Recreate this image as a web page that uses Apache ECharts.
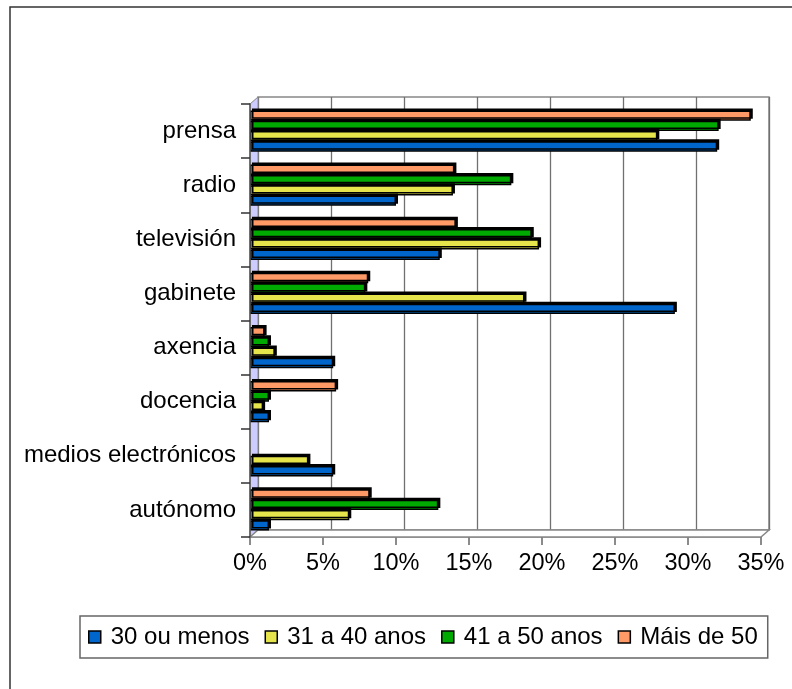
<!DOCTYPE html>
<html>
<head>
<meta charset="utf-8">
<script src="https://cdn.jsdelivr.net/npm/echarts@6/dist/echarts.min.js"></script>
<style>
  html, body { margin: 0; padding: 0; background: #fff; }
  #chart { width: 792px; height: 689px; }
</style>
</head>
<body>
<div id="chart"></div>
<script>
// categories listed bottom -> top (echarts draws first category at the bottom)
var categories = ['autónomo', 'medios electrónicos', 'docencia', 'axencia', 'gabinete', 'televisión', 'radio', 'prensa'];
var seriesNames = ['30 ou menos', '31 a 40 anos', '41 a 50 anos', 'Máis de 50'];
var v30 = [1.3, 5.7, 1.3, 5.7, 29.1, 13.0, 10.0, 32.0];
var v31 = [6.8, 4.0, 0.9, 1.7, 18.8, 19.8, 13.9, 27.9];
var v41 = [12.9, 0, 1.3, 1.3, 7.9, 19.3, 17.9, 32.1];
var v50 = [8.2, 0, 5.9, 1.0, 8.1, 14.1, 14.0, 34.3];
var xTicks = [0, 5, 10, 15, 20, 25, 30, 35];

var colors = ['#0066CC', '#E6E64C', '#00AA00', '#FF9966'];
var values = [v30, v31, v41, v50];
var font = '"Liberation Sans", Arial, sans-serif';

var chart = echarts.init(document.getElementById('chart'));

// echarts stacks the first series at the top of a band, so add them in reverse
var series = [];
for (var i = seriesNames.length - 1; i >= 0; i--) {
  series.push({
    name: seriesNames[i],
    type: 'bar',
    xAxisIndex: 0,
    yAxisIndex: 0,
    barWidth: 10.3,
    barGap: '0%',
    itemStyle: {
      color: colors[i],
      borderColor: '#000',
      borderWidth: 1.5,
      shadowColor: '#000',
      shadowOffsetX: 2,
      shadowOffsetY: -2
    },
    data: values[i].map(function (v) { return v === 0 ? null : v; })
  });
}

var option = {
  backgroundColor: '#fff',
  animation: false,
  textStyle: { fontFamily: font },
  grid: [
    // front (bars, axes)
    { left: 250, right: 31, top: 104, bottom: 152 },
    // back wall (gridlines), shifted for the 3D look
    { left: 258, right: 23, top: 97, bottom: 159, show: true, borderColor: '#888', borderWidth: 1.5 }
  ],
  graphic: [
    { type: 'rect', shape: { x: 10, y: 7, width: 800, height: 720 },
      style: { fill: 'none', stroke: '#333', lineWidth: 1.5 }, z: 100 },
    { type: 'polygon', shape: { points: [[250, 104], [258, 97], [258, 530], [250, 537]] },
      style: { fill: '#CCCCFF', stroke: '#888', lineWidth: 1 }, z: 1 },
    { type: 'polygon', shape: { points: [[250, 537], [258, 530], [769, 530], [761, 537]] },
      style: { fill: '#fff', stroke: '#888', lineWidth: 1.5 }, z: 1 }
  ],
  legend: {
    data: seriesNames,
    left: 80,
    top: 616,
    padding: [9, 10, 9, 8],
    itemGap: 15,
    itemWidth: 12,
    itemHeight: 12,
    icon: 'rect',
    borderColor: '#666',
    borderWidth: 1.5,
    itemStyle: { borderColor: '#000', borderWidth: 1.5, shadowOffsetX: 0, shadowOffsetY: 0, shadowColor: 'transparent' },
    textStyle: { fontSize: 24, color: '#000', fontFamily: font, padding: [0, 0, 0, 5] }
  },
  xAxis: [
    {
      gridIndex: 0,
      type: 'value',
      min: 0,
      max: 35,
      interval: 5,
      axisLine: { show: true, lineStyle: { color: '#888', width: 1.5 } },
      axisTick: { show: true, length: 8, lineStyle: { color: '#666', width: 1.5 } },
      splitLine: { show: false },
      axisLabel: { color: '#000', fontSize: 23.5, margin: 15, fontFamily: font,
        formatter: function (v) { return xTicks.indexOf(v) >= 0 ? v + '%' : ''; } }
    },
    {
      gridIndex: 1,
      type: 'value',
      min: 0,
      max: 35,
      interval: 5,
      axisLine: { show: false },
      axisTick: { show: false },
      axisLabel: { show: false },
      splitLine: { show: true, lineStyle: { color: '#707070', width: 1.3 } }
    }
  ],
  yAxis: [
    {
      gridIndex: 0,
      type: 'category',
      data: categories,
      axisLine: { show: true, lineStyle: { color: '#555', width: 1.5 } },
      axisTick: { show: true, length: 9, lineStyle: { color: '#333', width: 1.5 } },
      axisLabel: { color: '#000', fontSize: 24, margin: 14, fontFamily: font, padding: [0, 0, 6, 0] },
      z: 5
    },
    {
      gridIndex: 1,
      type: 'category',
      data: categories,
      axisLine: { show: false },
      axisTick: { show: false },
      axisLabel: { show: false }
    }
  ],
  series: series
};

chart.setOption(option);
</script>
</body>
</html>
